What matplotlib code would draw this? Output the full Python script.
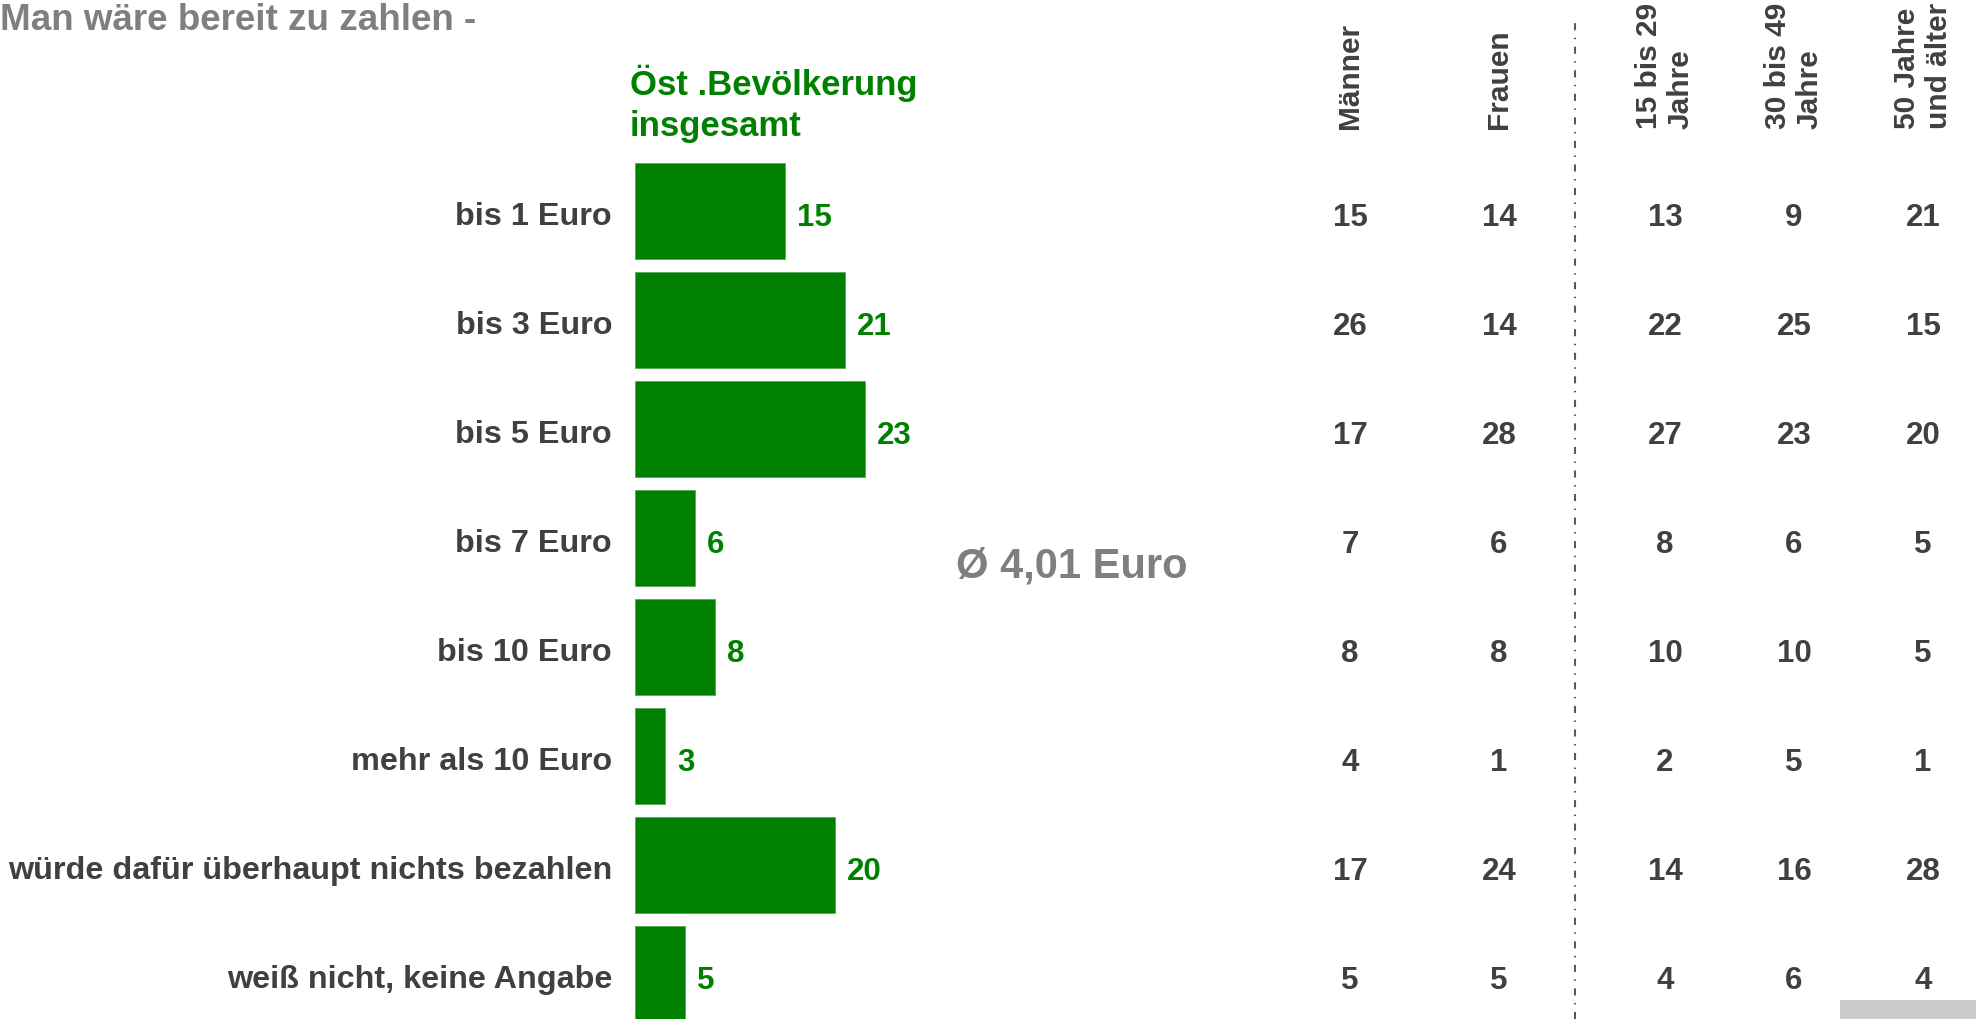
import matplotlib
matplotlib.use("Agg")
import matplotlib.pyplot as plt
from matplotlib import transforms
from matplotlib.lines import Line2D
from matplotlib.patches import Rectangle

plt.rcParams['font.family'] = ['Liberation Sans', 'DejaVu Sans']
plt.rcParams['font.weight'] = 'bold'

# data
categories = ["bis 1 Euro", "bis 3 Euro", "bis 5 Euro", "bis 7 Euro", "bis 10 Euro",
              "mehr als 10 Euro", "würde dafür überhaupt nichts bezahlen",
              "weiß nicht, keine Angabe"]
total = [15, 21, 23, 6, 8, 3, 20, 5]

col_heads = ["Männer", "Frauen", "15 bis 29\nJahre", "30 bis 49\nJahre", "50 Jahre\nund älter"]
maenner = [15, 26, 17, 7, 8, 4, 17, 5]
frauen = [14, 14, 28, 6, 8, 1, 24, 5]
age_15_29 = [13, 22, 27, 8, 10, 2, 14, 4]
age_30_49 = [9, 25, 23, 6, 10, 5, 16, 6]
age_50 = [21, 15, 20, 5, 5, 1, 28, 4]
columns = [maenner, frauen, age_15_29, age_30_49, age_50]

title = "Man wäre bereit zu zahlen -"
total_head = ["Öst .Bevölkerung", "insgesamt"]
avg_label = "Ø 4,01 Euro"

GREEN = "#008000"
DARK = "#404040"
GREY = "#7f7f7f"

W, H = 1976, 1019
fig = plt.figure(figsize=(W / 100, H / 100), dpi=100)
ax = fig.add_axes([0, 0, 1, 1])

# bar axes scale: 10 px per percent, bars start at px 635; rows 109 px apart
px_per_unit = 10.0
ax.set_xlim(-635 / px_per_unit, (W - 635) / px_per_unit)
ax.set_ylim((H - 211) / 109, -211 / 109)
ax.axis('off')

y = list(range(len(categories)))
ax.barh(y, total, height=0.88, color=GREEN, edgecolor='#5aa85a', linewidth=0.6, left=0)

# category labels and value labels
lab_tr = transforms.offset_copy(ax.transData, fig=fig, x=-23 * 0.72, y=-14 * 0.72, units='points')
val_tr = transforms.offset_copy(ax.transData, fig=fig, x=12 * 0.72, y=-15 * 0.72, units='points')
for i, (cat, v) in enumerate(zip(categories, total)):
    ax.text(0, i, cat, transform=lab_tr, ha='right', va='baseline', fontsize=23.3, color=DARK)
    ax.text(v, i, str(v), transform=val_tr, ha='left', va='baseline', fontsize=22.5, color=GREEN)

# breakdown columns
col_x = [1350, 1499, 1665, 1794, 1923]
blend = transforms.blended_transform_factory(fig.transFigure, ax.transData)
col_tr = transforms.offset_copy(blend, fig=fig, x=0, y=-15 * 0.72, units='points')
for cx, vals, head in zip(col_x, columns, col_heads):
    for i, v in enumerate(vals):
        ax.text(cx / W, i, str(v), transform=col_tr, ha='center', va='baseline',
                fontsize=22.5, color=DARK)
    fig.text(cx / W, 1 - 129 / H, head, rotation=90, ha='center', va='bottom',
             multialignment='left', linespacing=1.15, fontsize=21.5, color=DARK)

# dash-dot separator
fig.add_artist(Line2D([1575 / W, 1575 / W], [0, 1 - 20 / H], transform=fig.transFigure,
                      color='#595959', lw=1.5, linestyle=(0, (3.4, 3.6, 0.7, 3.6))))

# headings and average
fig.text(0.0, 1 - 30 / H, title, ha='left', va='baseline', fontsize=26.5, color=GREY)
fig.text(630 / W, 1 - 95 / H, total_head[0], ha='left', va='baseline', fontsize=25, color=GREEN)
fig.text(630 / W, 1 - 136 / H, total_head[1], ha='left', va='baseline', fontsize=25, color=GREEN)
fig.text(956 / W, 1 - 578 / H, avg_label, ha='left', va='baseline', fontsize=30, color=GREY)

# grey box bottom right
fig.add_artist(Rectangle((1840 / W, 0), (W - 1840) / W, 19 / H, transform=fig.transFigure,
                         facecolor='#cccccc', edgecolor='none'))

fig.savefig("out.png", dpi=100)
